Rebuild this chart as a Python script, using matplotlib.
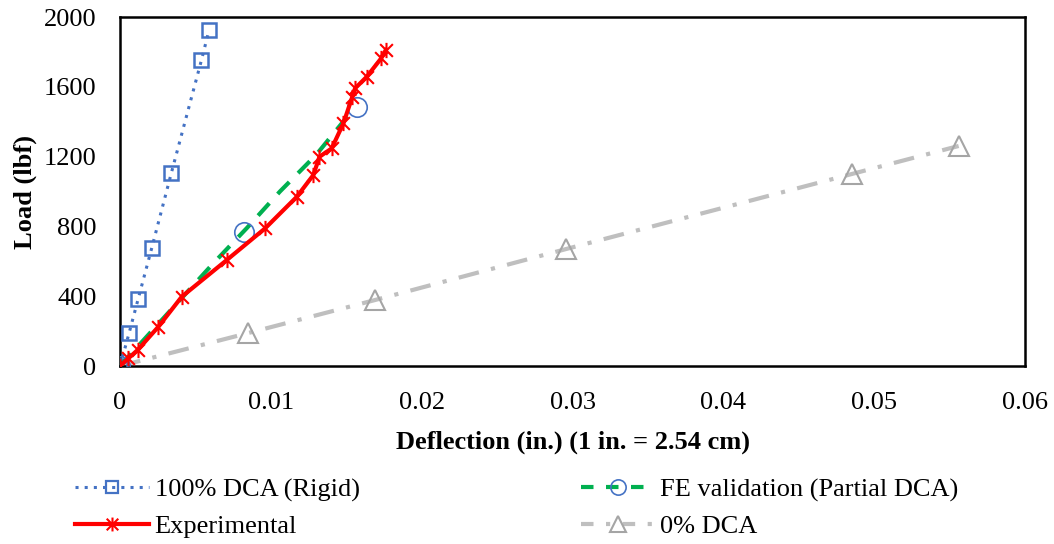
import matplotlib.pyplot as plt
from matplotlib.lines import Line2D
from matplotlib.path import Path

# 100% DCA (Rigid)
rigid_x = [0, 0.0006, 0.0012, 0.0021, 0.0034, 0.0054, 0.0059]
rigid_y = [0, 189, 384, 676, 1106, 1754, 1925]

# Experimental
exp_x = [0, 0.00055, 0.00117, 0.00254, 0.00409, 0.00707, 0.00962, 0.01172,
         0.01282, 0.01322, 0.01403, 0.01481, 0.0154, 0.01558, 0.01636,
         0.01731, 0.01762]
exp_y = [0, 44, 92, 225, 397, 607, 789, 970, 1095, 1199, 1247, 1391, 1543,
         1591, 1658, 1763, 1811]

# FE validation (Partial DCA): curve and marked points
fe_x = [0, 0.0021, 0.0042, 0.0062, 0.0084, 0.0106, 0.0130, 0.0155]
fe_y = [0, 200, 400, 590, 790, 1000, 1210, 1475]
fe_mark_x = [0, 0.0082, 0.0157]
fe_mark_y = [0, 770, 1486]

# 0% DCA
zero_x = [0, 0.0085, 0.0169, 0.0296, 0.0485, 0.0556]
zero_y = [0, 189, 378, 671, 1100, 1261]

xticks = [0, 0.01, 0.02, 0.03, 0.04, 0.05, 0.06]
xticklabels = ['0', '0.01', '0.02', '0.03', '0.04', '0.05', '0.06']
yticks = [0, 400, 800, 1200, 1600, 2000]

plt.rcParams['font.family'] = ['Liberation Serif', 'DejaVu Serif']
fs = 19

# six-armed star marker like Excel's
star = Path([(-1, -1), (1, 1), (-1, 1), (1, -1), (0, -1.2), (0, 1.2)],
            [Path.MOVETO, Path.LINETO, Path.MOVETO, Path.LINETO, Path.MOVETO, Path.LINETO])

blue = '#4472C4'
red = '#FF0000'
green = '#00B050'
gray_line = '#BFBFBF'
gray_mark = '#A5A5A5'

fig = plt.figure(figsize=(10.54, 5.44), dpi=100)
ax = fig.add_axes([0.1139, 0.3272, 0.8586, 0.6415])

ax.plot(zero_x, zero_y, color=gray_line, lw=3, dashes=(5, 3, 1, 3),
        marker='^', ms=14, mfc='none', mec=gray_mark, mew=1.5, zorder=2)
ax.plot(rigid_x, rigid_y, color=blue, lw=2.2, ls=(0, (1, 2)),
        marker='s', ms=10, mfc='none', mec=blue, mew=1.8, zorder=3)
ax.plot(fe_x, fe_y, color=green, lw=3, dashes=(4, 3), zorder=3)
ax.plot(fe_mark_x, fe_mark_y, ls='none', marker='o', ms=14, mfc='none',
        mec=blue, mew=1.2, zorder=4)
ax.plot(exp_x, exp_y, color=red, lw=3, marker=star, ms=11, mec=red,
        mew=1.5, zorder=5)

ax.set_xlim(0, 0.06)
ax.set_ylim(0, 2000)
ax.set_xticks(xticks)
ax.set_xticklabels(xticklabels)
ax.set_yticks(yticks)
ax.tick_params(length=0, labelsize=fs)
ax.tick_params(axis='x', pad=19)
ax.tick_params(axis='y', pad=17)
for s in ax.spines.values():
    s.set_linewidth(1.8)
    s.set_color('black')
ax.set_xlabel('Deflection (in.) (1 in. = 2.54 cm)', fontsize=fs,
              fontweight='bold', labelpad=12)
ax.set_ylabel('Load (lbf)', fontsize=fs, fontweight='bold', labelpad=5)

handles = [
    Line2D([], [], color=blue, lw=2.2, ls=(0, (1, 2)), marker='s', ms=8,
           mfc='none', mec=blue, mew=1.6),
    Line2D([], [], color=red, lw=3, marker=star, ms=10, mec=red, mew=1.5),
    Line2D([], [], color=green, lw=3, dashes=(3, 3), marker='o', ms=11,
           mfc='none', mec=blue, mew=1.2),
    Line2D([], [], color=gray_line, lw=3, dashes=(3, 3, 1, 3), marker='^',
           ms=11, mfc='none', mec=gray_mark, mew=1.5),
]
labels = ['100% DCA (Rigid)', 'Experimental', 'FE validation (Partial DCA)',
          '0% DCA']
fig.legend(handles, labels, loc='upper left', bbox_to_anchor=(0.0716, 0.122),
           ncol=2, frameon=False, fontsize=fs, handlelength=2.8,
           handletextpad=0.2, columnspacing=8.4, labelspacing=0.51,
           borderaxespad=0, borderpad=0)

fig.savefig('out.png', dpi=100)
